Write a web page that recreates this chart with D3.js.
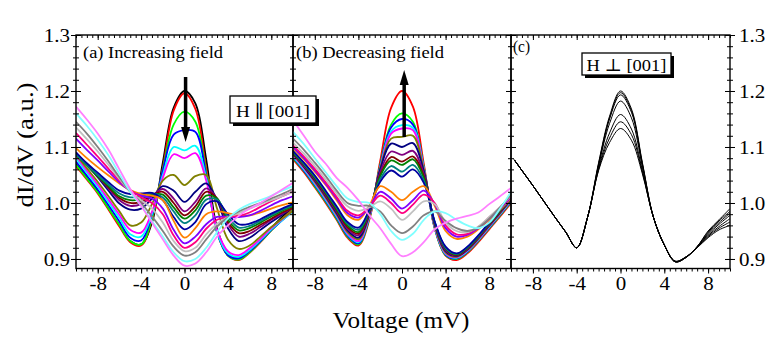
<!DOCTYPE html>
<html><head><meta charset="utf-8">
<script src="https://cdn.jsdelivr.net/npm/d3@7/dist/d3.min.js"></script>
<style>
body{margin:0;background:#fff}
svg{display:block}
text{font-family:"Liberation Serif","DejaVu Serif","Times New Roman",serif;fill:#000}
</style>
</head><body>
<svg id="chart" width="771" height="350"></svg>
<script>
// ---------- DATA ----------
const voltage  = [-10,-9,-8,-7,-6,-5,-4,-3,-2,-1,0,1,2,3,4,5,6,7,8,9,10];
const voltageC = [-9.7,-9,-8,-7,-6,-5,-4,-3,-2,-1,0,1,2,3,4,5,6,7,8,9,10];
const yTickValues = [0.9,1.0,1.1,1.2,1.3];
const xTickValues = [-8,-4,0,4,8];
const panelLabels = ["(a) Increasing field","(b) Decreasing field","(c)"];
const legendA = "H \u2225 [001]";
const legendC = "H \u22A5 [001]";

// (a) Increasing field
const incBlack   = [1.070,1.045,1.020,0.990,0.960,0.932,0.926,0.965,1.072,1.170,1.200,1.178,1.078,0.955,0.910,0.901,0.914,0.934,0.955,0.975,0.993];
const incRed     = [1.066,1.042,1.017,0.988,0.958,0.930,0.924,0.970,1.062,1.165,1.196,1.168,1.062,0.948,0.906,0.898,0.911,0.930,0.951,0.971,0.990];
const incGreen   = [1.068,1.044,1.019,0.990,0.961,0.932,0.926,0.972,1.060,1.140,1.163,1.145,1.055,0.948,0.906,0.899,0.912,0.931,0.951,0.970,0.988];
const incBlue    = [1.074,1.049,1.024,0.996,0.967,0.938,0.933,0.977,1.058,1.122,1.130,1.127,1.050,0.948,0.907,0.901,0.914,0.932,0.952,0.969,0.986];
const incCyan    = [1.080,1.054,1.029,1.001,0.973,0.944,0.940,0.980,1.050,1.100,1.094,1.102,1.045,0.948,0.910,0.904,0.916,0.934,0.953,0.969,0.984];
const incMagenta = [1.084,1.058,1.033,1.006,0.979,0.952,0.947,0.984,1.045,1.087,1.080,1.089,1.040,0.952,0.914,0.907,0.919,0.936,0.955,0.971,0.986];
const incDkYellow= [1.086,1.062,1.038,1.012,0.985,0.960,0.965,0.998,1.040,1.050,1.032,1.048,1.050,0.990,0.935,0.918,0.924,0.940,0.957,0.972,0.986];
const incNavy    = [1.090,1.068,1.046,1.022,0.999,0.988,0.990,1.008,1.030,1.022,1.002,1.020,1.035,1.005,0.955,0.932,0.938,0.952,0.966,0.979,0.992];
const incPurple  = [1.090,1.069,1.048,1.026,1.005,0.995,0.998,1.012,1.025,1.008,0.985,1.002,1.026,1.008,0.962,0.940,0.945,0.957,0.970,0.981,0.992];
const incWine    = [1.088,1.068,1.048,1.028,1.009,1.000,1.002,1.014,1.020,1.000,0.978,0.994,1.020,1.008,0.966,0.946,0.950,0.961,0.972,0.983,0.991];
const incOlive   = [1.086,1.067,1.048,1.030,1.012,1.005,1.007,1.015,1.015,0.992,0.972,0.987,1.013,1.008,0.970,0.951,0.955,0.965,0.976,0.986,0.994];
const incDkCyan  = [1.087,1.068,1.050,1.033,1.017,1.010,1.012,1.017,1.010,0.985,0.964,0.978,1.006,1.006,0.975,0.956,0.959,0.968,0.978,0.988,0.996];
const incRoyal   = [1.090,1.071,1.054,1.037,1.022,1.016,1.017,1.018,1.005,0.975,0.953,0.966,0.998,1.003,0.980,0.962,0.963,0.971,0.981,0.990,0.998];
const incOrange  = [1.098,1.080,1.064,1.049,1.035,1.023,1.016,1.013,1.005,0.968,0.938,0.955,0.980,0.985,0.982,0.978,0.978,0.983,0.990,0.996,1.001];
const incViolet  = [1.115,1.095,1.076,1.056,1.037,1.022,1.013,1.008,0.990,0.952,0.928,0.940,0.962,0.975,0.975,0.975,0.978,0.986,0.996,1.005,1.012];
const incPink    = [1.125,1.104,1.083,1.061,1.040,1.023,1.010,1.000,0.980,0.942,0.920,0.930,0.954,0.970,0.975,0.977,0.983,0.993,1.003,1.012,1.020];
const incLtGray  = [1.135,1.114,1.092,1.068,1.043,1.020,1.005,0.990,0.965,0.932,0.914,0.920,0.944,0.963,0.975,0.982,0.990,0.998,1.005,1.012,1.020];
const incGray    = [1.145,1.124,1.100,1.074,1.046,1.020,1.000,0.976,0.950,0.922,0.906,0.912,0.935,0.958,0.974,0.985,0.993,1.000,1.008,1.016,1.025];
const incLtCyan  = [1.160,1.138,1.113,1.085,1.052,1.020,0.995,0.968,0.940,0.912,0.896,0.900,0.920,0.948,0.972,0.988,0.998,1.005,1.013,1.022,1.030];
const incLtMag   = [1.172,1.149,1.124,1.095,1.060,1.025,0.995,0.965,0.935,0.906,0.888,0.892,0.912,0.940,0.960,0.977,0.990,1.000,1.012,1.024,1.036];

// (b) Decreasing field
const decRed     = [1.078,1.055,1.028,1.000,0.970,0.938,0.924,0.970,1.075,1.170,1.200,1.172,1.070,0.955,0.906,0.898,0.910,0.930,0.953,0.976,1.000];
const decGreen   = [1.080,1.057,1.030,1.002,0.972,0.940,0.926,0.972,1.068,1.140,1.160,1.145,1.065,0.955,0.907,0.900,0.912,0.932,0.955,0.978,1.002];
const decBlue    = [1.082,1.058,1.032,1.004,0.974,0.942,0.928,0.974,1.066,1.135,1.150,1.140,1.063,0.956,0.908,0.901,0.913,0.933,0.956,0.979,1.003];
const decCyan    = [1.083,1.060,1.034,1.006,0.976,0.944,0.930,0.975,1.064,1.128,1.139,1.134,1.062,0.957,0.909,0.902,0.914,0.934,0.957,0.980,1.004];
const decMagenta = [1.085,1.062,1.036,1.008,0.978,0.946,0.932,0.976,1.062,1.124,1.133,1.130,1.061,0.958,0.910,0.903,0.915,0.935,0.958,0.981,1.005];
const decDkYellow= [1.087,1.064,1.038,1.010,0.980,0.948,0.935,0.978,1.062,1.115,1.118,1.120,1.060,0.960,0.912,0.904,0.916,0.936,0.959,0.982,1.006];
const decNavy    = [1.088,1.065,1.040,1.012,0.982,0.951,0.938,0.980,1.060,1.106,1.100,1.107,1.057,0.962,0.914,0.905,0.917,0.937,0.960,0.983,1.006];
const decPurple  = [1.089,1.066,1.042,1.014,0.985,0.954,0.942,0.982,1.055,1.092,1.086,1.093,1.052,0.963,0.916,0.906,0.918,0.938,0.961,0.984,1.007];
const decWine    = [1.090,1.068,1.044,1.016,0.987,0.957,0.945,0.984,1.050,1.082,1.074,1.083,1.048,0.964,0.918,0.907,0.919,0.939,0.962,0.985,1.008];
const decOlive   = [1.090,1.069,1.045,1.018,0.989,0.960,0.948,0.985,1.048,1.076,1.068,1.078,1.045,0.965,0.919,0.908,0.920,0.940,0.963,0.986,1.008];
const decDkCyan  = [1.092,1.070,1.047,1.020,0.992,0.963,0.952,0.987,1.043,1.066,1.056,1.068,1.040,0.966,0.920,0.909,0.921,0.941,0.964,0.987,1.009];
const decRoyal   = [1.093,1.072,1.049,1.022,0.994,0.966,0.956,0.988,1.038,1.058,1.047,1.060,1.036,0.967,0.922,0.910,0.922,0.942,0.965,0.988,1.010];
const decOrange  = [1.098,1.078,1.056,1.032,1.005,0.978,0.970,0.995,1.030,1.020,1.005,1.020,1.030,0.995,0.950,0.936,0.940,0.953,0.970,0.988,1.008];
const decViolet  = [1.100,1.080,1.058,1.034,1.008,0.982,0.974,0.993,1.020,1.008,0.990,1.005,1.022,0.998,0.955,0.940,0.943,0.955,0.972,0.990,1.010];
const decPink    = [1.103,1.083,1.061,1.037,1.011,0.986,0.978,0.993,1.013,1.000,0.982,0.997,1.015,1.000,0.960,0.944,0.945,0.957,0.974,0.992,1.012];
const decLtGray  = [1.108,1.088,1.066,1.042,1.017,0.994,0.986,0.992,1.003,0.990,0.970,0.985,1.003,0.998,0.965,0.950,0.948,0.958,0.975,0.993,1.013];
const decGray    = [1.115,1.095,1.072,1.048,1.022,1.000,0.995,0.995,0.985,0.960,0.946,0.958,0.978,0.985,0.968,0.955,0.950,0.956,0.972,0.992,1.015];
const decLtCyan  = [1.127,1.105,1.080,1.055,1.030,1.008,1.002,1.000,0.980,0.950,0.934,0.945,0.970,0.985,0.982,0.970,0.960,0.955,0.965,0.990,1.020];
const decLtMag   = [1.148,1.120,1.092,1.070,1.045,1.027,1.005,0.978,0.955,0.927,0.905,0.912,0.930,0.953,0.965,0.972,0.977,0.983,0.998,1.012,1.027];

// (c) H perpendicular to [001]
const perp1 = [1.077,1.058,1.031,1.003,0.975,0.948,0.920,0.975,1.072,1.155,1.200,1.168,1.072,0.975,0.925,0.895,0.903,0.922,0.950,0.970,0.990];
const perp2 = [1.077,1.058,1.031,1.003,0.975,0.948,0.920,0.975,1.070,1.152,1.197,1.165,1.070,0.975,0.925,0.895,0.903,0.922,0.948,0.968,0.985];
const perp3 = [1.077,1.058,1.031,1.003,0.975,0.948,0.920,0.975,1.068,1.150,1.193,1.162,1.068,0.975,0.925,0.895,0.903,0.922,0.946,0.965,0.982];
const perp4 = [1.077,1.058,1.031,1.003,0.975,0.948,0.920,0.975,1.066,1.142,1.182,1.152,1.064,0.975,0.925,0.895,0.903,0.921,0.944,0.962,0.978];
const perp5 = [1.077,1.058,1.031,1.003,0.975,0.948,0.920,0.975,1.062,1.125,1.158,1.132,1.058,0.975,0.925,0.896,0.904,0.921,0.942,0.958,0.972];
const perp6 = [1.077,1.058,1.031,1.003,0.975,0.948,0.920,0.975,1.060,1.116,1.145,1.122,1.055,0.975,0.925,0.896,0.904,0.920,0.940,0.955,0.966];
const perp7 = [1.077,1.058,1.031,1.003,0.975,0.948,0.920,0.975,1.058,1.108,1.133,1.112,1.052,0.975,0.925,0.896,0.904,0.920,0.938,0.952,0.960];

// Origin palette
const cBlack="#000000",cRed="#ff0000",cGreen="#00ff00",cBlue="#0000ff",cCyan="#00ffff",cMagenta="#ff00ff",
      cDkYellow="#808000",cNavy="#000080",cPurple="#800080",cWine="#800000",cOlive="#008000",cDkCyan="#008080",
      cRoyal="#0000a0",cOrange="#ff8000",cViolet="#8000ff",cPink="#ff0080",cLtGray="#c0c0c0",cGray="#808080",
      cLtCyan="#80ffff",cLtMag="#ff80ff";

const incSeries = [
  [incBlack,cBlack],[incRed,cRed],[incGreen,cGreen],[incBlue,cBlue],[incCyan,cCyan],[incMagenta,cMagenta],
  [incDkYellow,cDkYellow],[incNavy,cNavy],[incPurple,cPurple],[incWine,cWine],[incOlive,cOlive],[incDkCyan,cDkCyan],
  [incRoyal,cRoyal],[incOrange,cOrange],[incViolet,cViolet],[incPink,cPink],[incLtGray,cLtGray],[incGray,cGray],
  [incLtCyan,cLtCyan],[incLtMag,cLtMag]];
const decSeries = [
  [decRed,cRed],[decGreen,cGreen],[decBlue,cBlue],[decCyan,cCyan],[decMagenta,cMagenta],
  [decDkYellow,cDkYellow],[decNavy,cNavy],[decPurple,cPurple],[decWine,cWine],[decOlive,cOlive],[decDkCyan,cDkCyan],
  [decRoyal,cRoyal],[decOrange,cOrange],[decViolet,cViolet],[decPink,cPink],[decLtGray,cLtGray],[decGray,cGray],
  [decLtCyan,cLtCyan],[decLtMag,cLtMag]];
const perpSeries = [perp1,perp2,perp3,perp4,perp5,perp6,perp7].map(v=>[v,cBlack]);

// ---------- LAYOUT ----------
const svg = d3.select("#chart");
const FONT = "'Liberation Serif','DejaVu Serif','Times New Roman',serif";
const yTop = 35, yBot = 268.5;
const y = d3.scaleLinear().domain([0.883,1.3]).range([yBot,yTop]);
const panels = [
  {x0:76,  x1:293, series:incSeries,  xs:voltage,  sw:1.8},
  {x0:293, x1:511, series:decSeries,  xs:voltage,  sw:1.8},
  {x0:511, x1:730, series:perpSeries, xs:voltageC, sw:1.0}
];
const minorX = d3.range(-10,10.001,0.5).map(v=>+v.toFixed(2));
const minorY = d3.range(0.9,1.3001,0.02).map(v=>+v.toFixed(2));
const fmtX = d => String(d);
const fmtY = d3.format(".1f");
// Times-like advance widths (em) so that label widths follow the reference
const advance = ch => ("0123456789".includes(ch) ? 0.5 : ch==="." ? 0.25 : ch==="-" ? 0.333 : 0.5);
const timesWidth = (s,size) => s.split("").reduce((a,c)=>a+advance(c),0)*size;

function clean(g){ g.attr("font-family",null); g.select(".domain").remove(); g.selectAll("line").attr("stroke","#000").attr("stroke-width",1); }
function styleTicks(g, fmt){
  g.selectAll("text").attr("font-size",19).attr("font-family",FONT)
   .attr("textLength",d=>timesWidth(fmt(d),21)).attr("lengthAdjust","spacingAndGlyphs");
}

panels.forEach((p,i)=>{
  const x = d3.scaleLinear().domain([-10,10]).range([p.x0,p.x1]);
  p.x = x;
  const clipId = "clip"+i;
  svg.append("clipPath").attr("id",clipId).append("rect")
     .attr("x",p.x0).attr("y",yTop).attr("width",p.x1-p.x0).attr("height",yBot-yTop);
  const line = d3.line().x((d,j)=>x(p.xs[j])).y(d=>y(d)).curve(d3.curveCatmullRom.alpha(0.5));
  const g = svg.append("g").attr("clip-path",`url(#${clipId})`);
  p.series.forEach(([vals,col])=>{
    g.append("path").attr("d",line(vals)).attr("fill","none")
     .attr("stroke",col).attr("stroke-width",p.sw).attr("stroke-linejoin","round");
  });

  svg.append("g").attr("transform",`translate(0,${yBot})`)
     .call(d3.axisBottom(x).tickValues(minorX).tickSize(3).tickFormat("")).call(clean);
  const gb = svg.append("g").attr("transform",`translate(0,${yBot})`)
     .call(d3.axisBottom(x).tickValues(xTickValues).tickSize(5).tickPadding(3).tickFormat(fmtX)).call(clean);
  styleTicks(gb, fmtX);
  svg.append("g").attr("transform",`translate(0,${yTop})`)
     .call(d3.axisTop(x).tickValues(minorX).tickSize(-3).tickFormat("")).call(clean);
  svg.append("g").attr("transform",`translate(0,${yTop})`)
     .call(d3.axisTop(x).tickValues(xTickValues).tickSize(-5).tickFormat("")).call(clean);

  svg.append("g").attr("transform",`translate(${p.x0},0)`)
     .call(d3.axisLeft(y).tickValues(minorY).tickSize(-3).tickFormat("")).call(clean);
  svg.append("g").attr("transform",`translate(${p.x1},0)`)
     .call(d3.axisRight(y).tickValues(minorY).tickSize(-3).tickFormat("")).call(clean);
  svg.append("g").attr("transform",`translate(${p.x0},0)`)
     .call(d3.axisLeft(y).tickValues(yTickValues).tickSize(-5).tickFormat("")).call(clean);
  svg.append("g").attr("transform",`translate(${p.x1},0)`)
     .call(d3.axisRight(y).tickValues(yTickValues).tickSize(-5).tickFormat("")).call(clean);

  svg.append("rect").attr("x",p.x0).attr("y",yTop).attr("width",p.x1-p.x0).attr("height",yBot-yTop)
     .attr("fill","none").attr("stroke","#000").attr("stroke-width",1.4);
});

const gl = svg.append("g").attr("transform",`translate(${panels[0].x0},0)`)
  .call(d3.axisLeft(y).tickValues(yTickValues).tickSize(5).tickPadding(1).tickFormat(fmtY)).call(clean);
styleTicks(gl, fmtY);
svg.append("g").attr("transform",`translate(${panels[0].x0},0)`)
  .call(d3.axisLeft(y).tickValues(minorY).tickSize(3).tickFormat("")).call(clean);
const gr = svg.append("g").attr("transform",`translate(${panels[2].x1},0)`)
  .call(d3.axisRight(y).tickValues(yTickValues).tickSize(5).tickPadding(4).tickFormat(fmtY)).call(clean);
styleTicks(gr, fmtY);
svg.append("g").attr("transform",`translate(${panels[2].x1},0)`)
  .call(d3.axisRight(y).tickValues(minorY).tickSize(3).tickFormat("")).call(clean);

function txt(x,yy,s,size,w,anchor){
  const t = svg.append("text").attr("x",x).attr("y",yy).attr("font-size",size).attr("font-family",FONT)
     .attr("text-anchor",anchor||"start").text(s);
  if(w) t.attr("textLength",w).attr("lengthAdjust","spacingAndGlyphs");
  return t;
}
txt(83,58,panelLabels[0],17.5,140);
txt(296,58,panelLabels[1],17.5,148);
txt(513,52,panelLabels[2],17.5,17);

function legendBox(x0,y0,w,h,label,ty,tw){
  svg.append("rect").attr("x",x0+3).attr("y",y0+3).attr("width",w).attr("height",h).attr("fill","#000");
  svg.append("rect").attr("x",x0).attr("y",y0).attr("width",w).attr("height",h)
     .attr("fill","#fff").attr("stroke","#000").attr("stroke-width",1.3);
  txt(x0+w/2,ty,label,17.5,tw,"middle");
}
legendBox(230,96,86,27,legendA,116.5,74);
legendBox(582,53,89,22,legendC,70.5,80);

const ax = panels[0].x(0.1), bx = panels[1].x(0.2);
svg.append("line").attr("x1",ax).attr("x2",ax).attr("y1",77).attr("y2",130).attr("stroke","#000").attr("stroke-width",3.5);
svg.append("path").attr("d",`M${ax-4.5},127 L${ax+4.5},127 L${ax},142 Z`).attr("fill","#000");
svg.append("line").attr("x1",bx).attr("x2",bx).attr("y1",137).attr("y2",82).attr("stroke","#000").attr("stroke-width",3.5);
svg.append("path").attr("d",`M${bx-4.5},85 L${bx+4.5},85 L${bx},70 Z`).attr("fill","#000");

txt(401,328,"Voltage (mV)",23,137,"middle");
svg.append("text").attr("transform","translate(33,145) rotate(-90)").attr("text-anchor","middle")
   .attr("font-size",24).attr("font-family",FONT).attr("textLength",125).attr("lengthAdjust","spacingAndGlyphs").text("dI/dV (a.u.)");
</script>
</body></html>
